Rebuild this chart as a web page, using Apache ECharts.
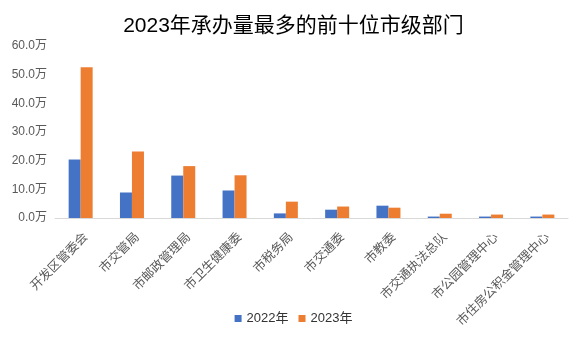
<!DOCTYPE html>
<html><head><meta charset="utf-8">
<script src="https://cdn.jsdelivr.net/npm/echarts@6/dist/echarts.min.js"></script>
<style>html,body{margin:0;padding:0;background:#fff}#c{width:587px;height:342px}</style>
</head><body><div id="c"></div>
<script>
const categories = ['开发区管委会','市交管局','市邮政管理局','市卫生健康委','市税务局','市交通委','市教委','市交通执法总队','市公园管理中心','市住房公积金管理中心'];
const values2022 = [20.4, 8.9, 14.8, 9.6, 1.6, 2.9, 4.3, 0.5, 0.5, 0.5];
const values2023 = [52.6, 23.2, 18.1, 14.9, 5.7, 4.0, 3.6, 1.5, 1.2, 1.2];
const seriesNames = ['2022年','2023年'];
const chart = echarts.init(document.getElementById('c'));
const cjk = "'Noto Sans CJK SC',sans-serif";
const mixed = "'Liberation Sans','Noto Sans CJK SC',sans-serif";
chart.setOption({
  animation:false,
  title:{text:'2023年承办量最多的前十位市级部门',left:'center',top:11,textStyle:{fontSize:21,fontWeight:'normal',color:'#000',fontFamily:mixed}},
  legend:{bottom:12,left:'center',itemWidth:7,itemHeight:7,itemGap:10,icon:'rect',textStyle:{fontSize:13,color:'#333',fontFamily:mixed},data:seriesNames},
  grid:{left:55,right:19,top:46,bottom:124,containLabel:false},
  xAxis:{type:'category',data:categories,axisLine:{lineStyle:{color:'#d9d9d9',width:1}},axisTick:{show:false},
    axisLabel:{rotate:45,interval:0,fontSize:12.5,color:'#595959',margin:12,verticalAlign:'top',fontFamily:cjk}},
  yAxis:{type:'value',min:0,max:60,interval:10,splitLine:{show:false},axisLine:{show:false},axisTick:{show:false},
    axisLabel:{fontSize:12,color:'#595959',margin:8,fontFamily:mixed,formatter:v=>v.toFixed(1)+'万'}},
  series:[
    {name:seriesNames[0],type:'bar',data:values2022,barWidth:12,barGap:'0%',itemStyle:{color:'#4472C4'}},
    {name:seriesNames[1],type:'bar',data:values2023,barWidth:12,barGap:'0%',itemStyle:{color:'#ED7D31'}}
  ]
});
</script></body></html>
